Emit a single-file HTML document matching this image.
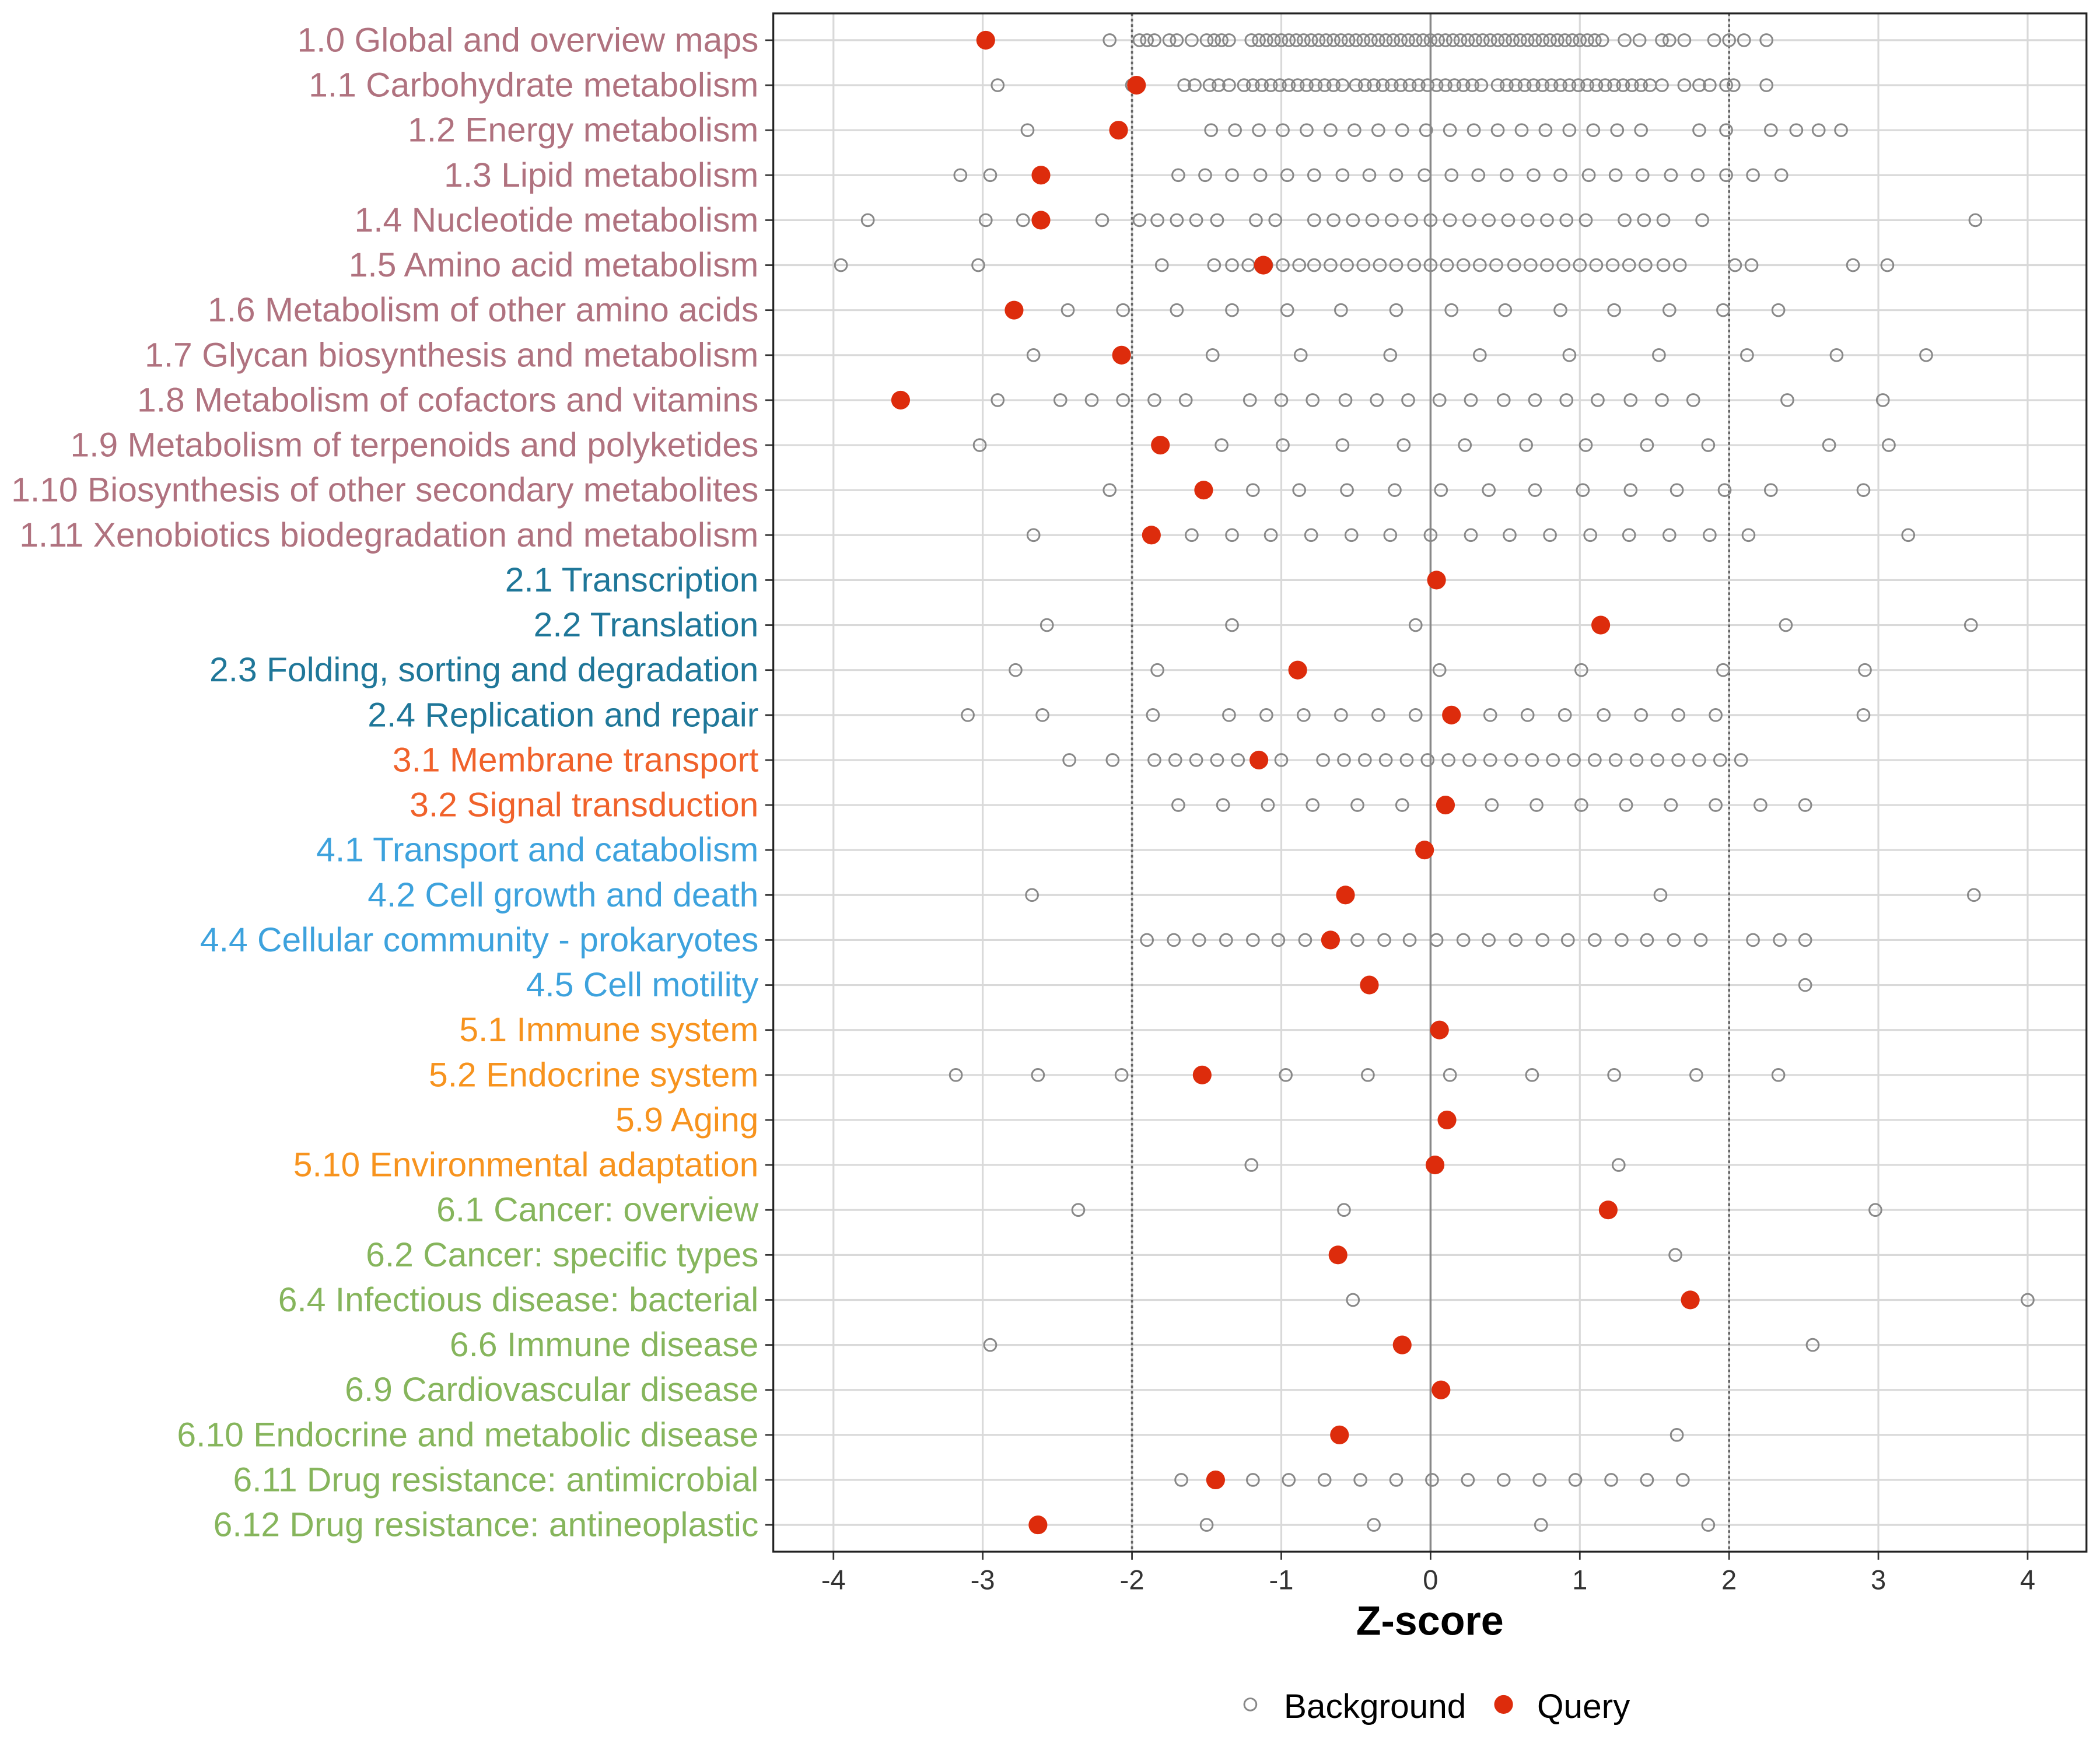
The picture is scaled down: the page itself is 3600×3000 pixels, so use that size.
<!DOCTYPE html>
<html><head><meta charset="utf-8"><style>
html,body{margin:0;padding:0;background:#fff;}
svg{display:block;font-family:"Liberation Sans",Arial,sans-serif;}
</style></head><body>
<svg id="chart" width="3600" height="3000" viewBox="0 0 1567 1306" xmlns="http://www.w3.org/2000/svg">
<rect x="0" y="0" width="1567" height="1306" fill="#fff"/>
<g id="grid"></g>
<g id="marks"></g>
<g id="axes"></g>
<text x="1067" y="1220" text-anchor="middle" font-size="30.5" font-weight="bold" fill="#000">Z-score</text>
<g>
<g>
<circle cx="933" cy="1272" r="4.5" fill="none" stroke="#888" stroke-width="1.3"/>
<text x="958" y="1282" font-size="25.5" fill="#000">Background</text></g>
<g>
<circle cx="1122" cy="1272" r="7" fill="#DD2C0C"/>
<text x="1147" y="1282" font-size="25.5" fill="#000">Query</text></g>
</g>
</svg>
<script>
const categories = ["1.0 Global and overview maps","1.1 Carbohydrate metabolism","1.2 Energy metabolism","1.3 Lipid metabolism","1.4 Nucleotide metabolism","1.5 Amino acid metabolism","1.6 Metabolism of other amino acids","1.7 Glycan biosynthesis and metabolism","1.8 Metabolism of cofactors and vitamins","1.9 Metabolism of terpenoids and polyketides","1.10 Biosynthesis of other secondary metabolites","1.11 Xenobiotics biodegradation and metabolism","2.1 Transcription","2.2 Translation","2.3 Folding, sorting and degradation","2.4 Replication and repair","3.1 Membrane transport","3.2 Signal transduction","4.1 Transport and catabolism","4.2 Cell growth and death","4.4 Cellular community - prokaryotes","4.5 Cell motility","5.1 Immune system","5.2 Endocrine system","5.9 Aging","5.10 Environmental adaptation","6.1 Cancer: overview","6.2 Cancer: specific types","6.4 Infectious disease: bacterial","6.6 Immune disease","6.9 Cardiovascular disease","6.10 Endocrine and metabolic disease","6.11 Drug resistance: antimicrobial","6.12 Drug resistance: antineoplastic"];
const queryValues = [-2.98,-1.97,-2.09,-2.61,-2.61,-1.12,-2.79,-2.07,-3.55,-1.81,-1.52,-1.87,0.04,1.14,-0.89,0.14,-1.15,0.1,-0.04,-0.57,-0.67,-0.41,0.06,-1.53,0.11,0.03,1.19,-0.62,1.74,-0.19,0.07,-0.61,-1.44,-2.63];
const backgroundValues = [
[-2.15,-1.95,-1.9,-1.85,-1.75,-1.7,-1.6,-1.5,-1.45,-1.4,-1.35,-1.2,-1.15,-1.1,-1.05,-1.0,-0.95,-0.9,-0.85,-0.8,-0.75,-0.7,-0.65,-0.6,-0.55,-0.5,-0.45,-0.4,-0.35,-0.3,-0.25,-0.2,-0.15,-0.1,-0.05,0,0.05,0.1,0.15,0.2,0.25,0.3,0.35,0.4,0.45,0.5,0.55,0.6,0.65,0.7,0.75,0.8,0.85,0.9,0.95,1.0,1.05,1.1,1.15,1.3,1.4,1.55,1.6,1.7,1.9,2.0,2.1,2.25],
[-2.9,-2.0,-1.65,-1.58,-1.48,-1.42,-1.35,-1.25,-1.19,-1.13,-1.07,-1.01,-0.95,-0.89,-0.83,-0.77,-0.71,-0.65,-0.59,-0.5,-0.44,-0.38,-0.32,-0.26,-0.2,-0.14,-0.08,-0.02,0.04,0.1,0.16,0.22,0.28,0.34,0.45,0.51,0.57,0.63,0.69,0.75,0.81,0.87,0.93,0.99,1.05,1.11,1.17,1.23,1.29,1.35,1.41,1.47,1.55,1.7,1.8,1.87,1.98,2.03,2.25],
[-2.7,-1.47,-1.31,-1.15,-0.99,-0.83,-0.67,-0.51,-0.35,-0.19,-0.03,0.13,0.29,0.45,0.61,0.77,0.93,1.09,1.25,1.41,1.8,1.98,2.28,2.45,2.6,2.75],
[-3.15,-2.95,-1.69,-1.51,-1.33,-1.14,-0.96,-0.78,-0.59,-0.41,-0.23,-0.04,0.14,0.32,0.51,0.69,0.87,1.06,1.24,1.42,1.61,1.79,1.98,2.16,2.35],
[-3.77,-2.98,-2.73,-2.2,-1.95,-1.83,-1.7,-1.57,-1.43,-1.17,-1.04,-0.78,-0.65,-0.52,-0.39,-0.26,-0.13,0,0.13,0.26,0.39,0.52,0.65,0.78,0.91,1.04,1.3,1.43,1.56,1.82,3.65],
[-3.95,-3.03,-1.8,-1.45,-1.33,-1.22,-1.1,-0.99,-0.88,-0.78,-0.67,-0.56,-0.45,-0.34,-0.23,-0.11,0,0.11,0.22,0.33,0.44,0.56,0.67,0.78,0.89,1.0,1.11,1.22,1.33,1.44,1.56,1.67,2.04,2.15,2.83,3.06],
[-2.43,-2.06,-1.7,-1.33,-0.96,-0.6,-0.23,0.14,0.5,0.87,1.23,1.6,1.96,2.33],
[-2.66,-1.46,-0.87,-0.27,0.33,0.93,1.53,2.12,2.72,3.32],
[-2.9,-2.48,-2.27,-2.06,-1.85,-1.64,-1.21,-1.0,-0.79,-0.57,-0.36,-0.15,0.06,0.27,0.49,0.7,0.91,1.12,1.34,1.55,1.76,2.39,3.03],
[-3.02,-1.4,-0.99,-0.59,-0.18,0.23,0.64,1.04,1.45,1.86,2.67,3.07],
[-2.15,-1.19,-0.88,-0.56,-0.24,0.07,0.39,0.7,1.02,1.34,1.65,1.97,2.28,2.9],
[-2.66,-1.6,-1.33,-1.07,-0.8,-0.53,-0.27,0,0.27,0.53,0.8,1.07,1.33,1.6,1.87,2.13,3.2],
[],
[-2.57,-1.33,-0.1,2.38,3.62],
[-2.78,-1.83,0.06,1.01,1.96,2.91],
[-3.1,-2.6,-1.86,-1.35,-1.1,-0.85,-0.6,-0.35,-0.1,0.4,0.65,0.9,1.16,1.41,1.66,1.91,2.9],
[-2.42,-2.13,-1.85,-1.71,-1.57,-1.43,-1.29,-1.0,-0.72,-0.58,-0.44,-0.3,-0.16,-0.02,0.12,0.26,0.4,0.54,0.68,0.82,0.96,1.1,1.24,1.38,1.52,1.66,1.8,1.94,2.08],
[-1.69,-1.39,-1.09,-0.79,-0.49,-0.19,0.41,0.71,1.01,1.31,1.61,1.91,2.21,2.51],
[],
[-2.67,1.54,3.64],
[-1.9,-1.72,-1.55,-1.37,-1.19,-1.02,-0.84,-0.49,-0.31,-0.14,0.04,0.22,0.39,0.57,0.75,0.92,1.1,1.28,1.45,1.63,1.81,2.16,2.34,2.51],
[2.51],
[],
[-3.18,-2.63,-2.07,-0.97,-0.42,0.13,0.68,1.23,1.78,2.33],
[],
[-1.2,1.26],
[-2.36,-0.58,2.98],
[1.64],
[-0.52,4.0],
[-2.95,2.56],
[],
[1.65],
[-1.67,-1.19,-0.95,-0.71,-0.47,-0.23,0.01,0.25,0.49,0.73,0.97,1.21,1.45,1.69],
[-1.5,-0.38,0.74,1.86]
];
const xTicks = [-4,-3,-2,-1,0,1,2,3,4];
const xTickLabels = ["-4","-3","-2","-1","0","1","2","3","4"];
const groupColors = {"1":"#B0727F","2":"#1F7799","3":"#F0622B","4":"#3DA2DD","5":"#F7931E","6":"#86B55C"};

const NS="http://www.w3.org/2000/svg";
const L=577,R=1557,T=10,B=1158;
const xScale=v=>1067.5+v*111.4;
const yScale=i=>30+i*(1108/33);
function mk(tag,attrs,parent){const e=document.createElementNS(NS,tag);for(const k in attrs)e.setAttribute(k,attrs[k]);parent.appendChild(e);return e;}
const grid=document.getElementById('grid'),marks=document.getElementById('marks'),axes=document.getElementById('axes');
xTicks.forEach((t,i)=>{
  const g=mk('line',{x1:xScale(t),x2:xScale(t),y1:T,y2:B,stroke:'#d9d9d9','stroke-width':1.4},grid);
  
  
  const tk=mk('line',{x1:xScale(t),x2:xScale(t),y1:B,y2:B+6,stroke:'#333','stroke-width':1.2},axes);
  
  
  const tl=mk('text',{x:xScale(t),y:B+28,'text-anchor':'middle','font-size':20.5,fill:'#333'},axes);
  tl.textContent=xTickLabels[i];
  
  
});
categories.forEach((c,i)=>{
  const y=yScale(i);
  const g=mk('line',{x1:L,x2:R,y1:y,y2:y,stroke:'#d9d9d9','stroke-width':1.4},grid);
  
  
  const tk=mk('line',{x1:L-6,x2:L,y1:y,y2:y,stroke:'#333','stroke-width':1.2},axes);
  
  
  const tl=mk('text',{x:566,y:y+8.5,'text-anchor':'end','font-size':25.6,fill:groupColors[c.split('.')[0]]},axes);
  tl.textContent=c;
  
  
});
const z=mk('line',{x1:xScale(0),x2:xScale(0),y1:T,y2:B,stroke:'#888','stroke-width':1.5},grid);


[-2,2].forEach(v=>{
  const d=mk('line',{x1:xScale(v),x2:xScale(v),y1:T,y2:B,stroke:'#666','stroke-width':1.6,'stroke-dasharray':'2,2'},grid);
  
  
});
backgroundValues.forEach((row,i)=>{
  row.forEach(v=>{
    const c=mk('circle',{cx:xScale(v),cy:yScale(i),r:4.5,fill:'none',stroke:'#888','stroke-width':1.3},marks);
    
    
  });
});
queryValues.forEach((v,i)=>{
  const c=mk('circle',{cx:xScale(v),cy:yScale(i),r:7,fill:'#DD2C0C'},marks);
  
  
});
const border=mk('rect',{x:L,y:T,width:R-L,height:B-T,fill:'none',stroke:'#222','stroke-width':1.4},axes);


</script>
</body></html>
